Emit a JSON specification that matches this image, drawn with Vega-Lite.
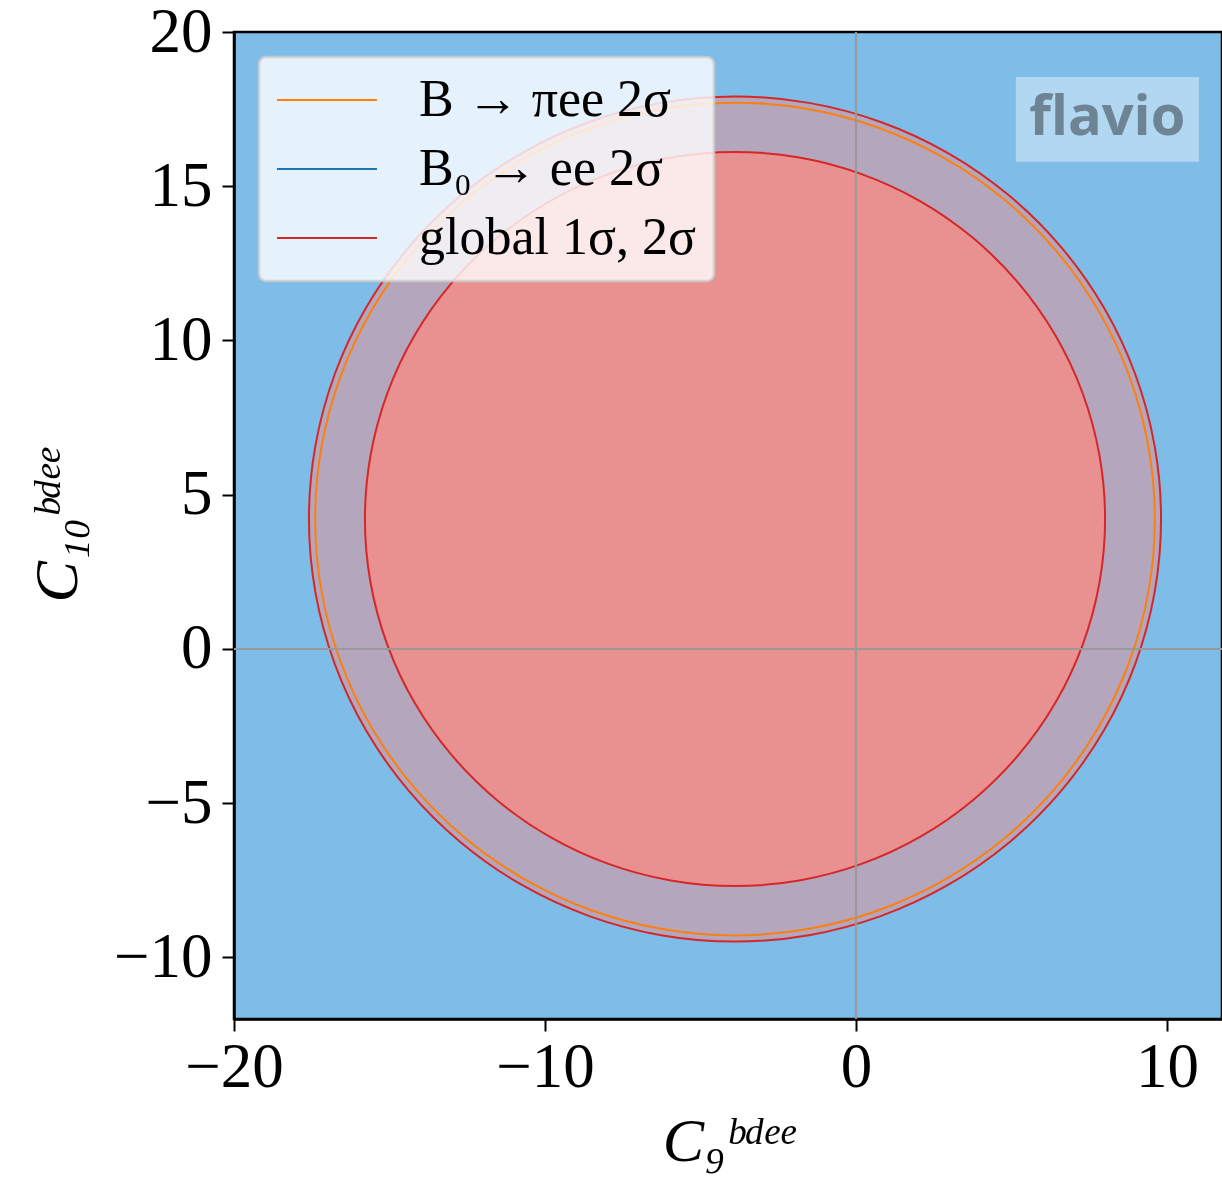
{
  "$schema": "https://vega.github.io/schema/vega-lite/v6.json",
  "autosize": {"type": "none"},
  "padding": {"left": 234, "top": 32, "right": 0, "bottom": 169},
  "width": 988,
  "height": 987,
  "background": "white",
  "config": {
    "view": {"fill": "#7ebde8", "stroke": "black", "strokeWidth": 2.5},
    "legend": {"strokeWidth": 2.5},
    "axis": {
      "grid": false,
      "labelFont": "Liberation Serif",
      "labelFontSize": 63,
      "labelColor": "black",
      "labelFlush": false,
      "tickColor": "black",
      "tickSize": 12,
      "tickWidth": 2,
      "domainColor": "black",
      "domainWidth": 2.5,
      "titleFont": "Liberation Serif",
      "titleFontSize": 62,
      "titleFontStyle": "italic",
      "titleFontWeight": "normal",
      "titleColor": "black"
    }
  },
  "datasets": {
    "global2": [
      {"t": 0, "c9": 9.81, "c10": 4.21}, {"t": 10, "c9": 9.602, "c10": 6.589},
      {"t": 20, "c9": 8.984, "c10": 8.896}, {"t": 30, "c9": 7.975, "c10": 11.06},
      {"t": 40, "c9": 6.605, "c10": 13.016}, {"t": 50, "c9": 4.916, "c10": 14.705},
      {"t": 60, "c9": 2.96, "c10": 16.075}, {"t": 70, "c9": 0.796, "c10": 17.084},
      {"t": 80, "c9": -1.511, "c10": 17.702}, {"t": 90, "c9": -3.89, "c10": 17.91},
      {"t": 100, "c9": -6.269, "c10": 17.702}, {"t": 110, "c9": -8.576, "c10": 17.084},
      {"t": 120, "c9": -10.74, "c10": 16.075}, {"t": 130, "c9": -12.696, "c10": 14.705},
      {"t": 140, "c9": -14.385, "c10": 13.016}, {"t": 150, "c9": -15.755, "c10": 11.06},
      {"t": 160, "c9": -16.764, "c10": 8.896}, {"t": 170, "c9": -17.382, "c10": 6.589},
      {"t": 180, "c9": -17.59, "c10": 4.21}, {"t": 190, "c9": -17.382, "c10": 1.831},
      {"t": 200, "c9": -16.764, "c10": -0.476}, {"t": 210, "c9": -15.755, "c10": -2.64},
      {"t": 220, "c9": -14.385, "c10": -4.596}, {"t": 230, "c9": -12.696, "c10": -6.285},
      {"t": 240, "c9": -10.74, "c10": -7.655}, {"t": 250, "c9": -8.576, "c10": -8.664},
      {"t": 260, "c9": -6.269, "c10": -9.282}, {"t": 270, "c9": -3.89, "c10": -9.49},
      {"t": 280, "c9": -1.511, "c10": -9.282}, {"t": 290, "c9": 0.796, "c10": -8.664},
      {"t": 300, "c9": 2.96, "c10": -7.655}, {"t": 310, "c9": 4.916, "c10": -6.285},
      {"t": 320, "c9": 6.605, "c10": -4.596}, {"t": 330, "c9": 7.975, "c10": -2.64},
      {"t": 340, "c9": 8.984, "c10": -0.476}, {"t": 350, "c9": 9.602, "c10": 1.831}
    ],
    "global1": [
      {"t": 0, "c9": 8.01, "c10": 4.21}, {"t": 10, "c9": 7.829, "c10": 6.276},
      {"t": 20, "c9": 7.292, "c10": 8.28}, {"t": 30, "c9": 6.416, "c10": 10.16},
      {"t": 40, "c9": 5.226, "c10": 11.859}, {"t": 50, "c9": 3.759, "c10": 13.326},
      {"t": 60, "c9": 2.06, "c10": 14.516}, {"t": 70, "c9": 0.18, "c10": 15.392},
      {"t": 80, "c9": -1.824, "c10": 15.929}, {"t": 90, "c9": -3.89, "c10": 16.11},
      {"t": 100, "c9": -5.956, "c10": 15.929}, {"t": 110, "c9": -7.96, "c10": 15.392},
      {"t": 120, "c9": -9.84, "c10": 14.516}, {"t": 130, "c9": -11.539, "c10": 13.326},
      {"t": 140, "c9": -13.006, "c10": 11.859}, {"t": 150, "c9": -14.196, "c10": 10.16},
      {"t": 160, "c9": -15.072, "c10": 8.28}, {"t": 170, "c9": -15.609, "c10": 6.276},
      {"t": 180, "c9": -15.79, "c10": 4.21}, {"t": 190, "c9": -15.609, "c10": 2.144},
      {"t": 200, "c9": -15.072, "c10": 0.14}, {"t": 210, "c9": -14.196, "c10": -1.74},
      {"t": 220, "c9": -13.006, "c10": -3.439}, {"t": 230, "c9": -11.539, "c10": -4.906},
      {"t": 240, "c9": -9.84, "c10": -6.096}, {"t": 250, "c9": -7.96, "c10": -6.972},
      {"t": 260, "c9": -5.956, "c10": -7.509}, {"t": 270, "c9": -3.89, "c10": -7.69},
      {"t": 280, "c9": -1.824, "c10": -7.509}, {"t": 290, "c9": 0.18, "c10": -6.972},
      {"t": 300, "c9": 2.06, "c10": -6.096}, {"t": 310, "c9": 3.759, "c10": -4.906},
      {"t": 320, "c9": 5.226, "c10": -3.439}, {"t": 330, "c9": 6.416, "c10": -1.74},
      {"t": 340, "c9": 7.292, "c10": 0.14}, {"t": 350, "c9": 7.829, "c10": 2.144}
    ],
    "piee": [
      {"t": 0, "c9": 9.61, "c10": 4.21}, {"t": 10, "c9": 9.405, "c10": 6.554},
      {"t": 20, "c9": 8.796, "c10": 8.827}, {"t": 30, "c9": 7.801, "c10": 10.96},
      {"t": 40, "c9": 6.452, "c10": 12.888}, {"t": 50, "c9": 4.788, "c10": 14.552},
      {"t": 60, "c9": 2.86, "c10": 15.901}, {"t": 70, "c9": 0.727, "c10": 16.896},
      {"t": 80, "c9": -1.546, "c10": 17.505}, {"t": 90, "c9": -3.89, "c10": 17.71},
      {"t": 100, "c9": -6.234, "c10": 17.505}, {"t": 110, "c9": -8.507, "c10": 16.896},
      {"t": 120, "c9": -10.64, "c10": 15.901}, {"t": 130, "c9": -12.568, "c10": 14.552},
      {"t": 140, "c9": -14.232, "c10": 12.888}, {"t": 150, "c9": -15.581, "c10": 10.96},
      {"t": 160, "c9": -16.576, "c10": 8.827}, {"t": 170, "c9": -17.185, "c10": 6.554},
      {"t": 180, "c9": -17.39, "c10": 4.21}, {"t": 190, "c9": -17.185, "c10": 1.866},
      {"t": 200, "c9": -16.576, "c10": -0.407}, {"t": 210, "c9": -15.581, "c10": -2.54},
      {"t": 220, "c9": -14.232, "c10": -4.468}, {"t": 230, "c9": -12.568, "c10": -6.132},
      {"t": 240, "c9": -10.64, "c10": -7.481}, {"t": 250, "c9": -8.507, "c10": -8.476},
      {"t": 260, "c9": -6.234, "c10": -9.085}, {"t": 270, "c9": -3.89, "c10": -9.29},
      {"t": 280, "c9": -1.546, "c10": -9.085}, {"t": 290, "c9": 0.727, "c10": -8.476},
      {"t": 300, "c9": 2.86, "c10": -7.481}, {"t": 310, "c9": 4.788, "c10": -6.132},
      {"t": 320, "c9": 6.452, "c10": -4.468}, {"t": 330, "c9": 7.801, "c10": -2.54},
      {"t": 340, "c9": 8.796, "c10": -0.407}, {"t": 350, "c9": 9.405, "c10": 1.866}
    ],
    "logo": [
      {"label": "flavio", "c9": 5.14, "c9b": 11.03, "c10": 15.79, "c10b": 18.54, "c9t": 8.08, "c10t": 17.2}
    ]
  },
  "layer": [
    {
      "data": {"name": "global2"},
      "mark": {"type": "line", "interpolate": "cardinal-closed", "fill": "#b3a6bd", "strokeWidth": 2},
      "encoding": {
        "x": {
          "field": "c9", "type": "quantitative",
          "scale": {"domain": [-20, 11.77], "nice": false, "zero": false},
          "axis": {"values": [-20, -10, 0, 10], "labelPadding": 5, "titlePadding": 12, "title": "C₉ᵇᵈᵉᵉ"}
        },
        "y": {
          "field": "c10", "type": "quantitative",
          "scale": {"domain": [-12, 20], "nice": false, "zero": false},
          "axis": {"values": [-10, -5, 0, 5, 10, 15, 20], "labelPadding": 10, "titlePadding": 24, "title": "C₁₀ᵇᵈᵉᵉ"}
        },
        "order": {"field": "t", "type": "quantitative"},
        "color": {
          "datum": "global 1σ, 2σ",
          "type": "nominal",
          "scale": {
            "domain": ["B → πee 2σ", "B₀ → ee 2σ", "global 1σ, 2σ"],
            "range": ["#ff7f0e", "#1f77b4", "#d62728"]
          },
          "legend": {
            "title": null,
            "orient": "none",
            "legendX": 25,
            "legendY": 25,
            "symbolType": "M-2,0H2",
            "symbolSize": 2500,
            "symbolOffset": 25,
            "symbolStrokeWidth": 2,
            "labelFont": "Liberation Serif",
            "labelFontSize": 52,
            "labelColor": "black",
            "labelOffset": 66,
            "labelLimit": 600,
            "rowPadding": 17,
            "padding": 17,
            "fillColor": "rgba(255,255,255,0.8)",
            "strokeColor": "rgba(204,204,204,0.85)",
            "cornerRadius": 7
          }
        }
      }
    },
    {
      "data": {"name": "piee"},
      "mark": {"type": "line", "interpolate": "cardinal-closed", "strokeWidth": 2},
      "encoding": {
        "x": {"field": "c9", "type": "quantitative"},
        "y": {"field": "c10", "type": "quantitative"},
        "order": {"field": "t", "type": "quantitative"},
        "color": {"datum": "B → πee 2σ", "type": "nominal"}
      }
    },
    {
      "data": {"name": "global1"},
      "mark": {"type": "line", "interpolate": "cardinal-closed", "fill": "#e99190", "strokeWidth": 2},
      "encoding": {
        "x": {"field": "c9", "type": "quantitative"},
        "y": {"field": "c10", "type": "quantitative"},
        "order": {"field": "t", "type": "quantitative"},
        "color": {"datum": "global 1σ, 2σ", "type": "nominal"}
      }
    },
    {
      "data": {"values": [{"c9": 0}]},
      "mark": {"type": "rule", "color": "#999999", "strokeWidth": 2},
      "encoding": {"x": {"field": "c9", "type": "quantitative"}}
    },
    {
      "data": {"values": [{"c10": 0}]},
      "mark": {"type": "rule", "color": "#999999", "strokeWidth": 2},
      "encoding": {"y": {"field": "c10", "type": "quantitative"}}
    },
    {
      "data": {"name": "logo"},
      "mark": {"type": "rect", "fill": "white", "opacity": 0.4},
      "encoding": {
        "x": {"field": "c9", "type": "quantitative"},
        "x2": {"field": "c9b"},
        "y": {"field": "c10", "type": "quantitative"},
        "y2": {"field": "c10b"}
      }
    },
    {
      "data": {"name": "logo"},
      "mark": {"type": "text", "font": "Open Sans", "fontWeight": "bold", "fontSize": 56, "color": "#6e8394", "align": "center", "baseline": "middle"},
      "encoding": {
        "x": {"field": "c9t", "type": "quantitative"},
        "y": {"field": "c10t", "type": "quantitative"},
        "text": {"field": "label"}
      }
    }
  ]
}
